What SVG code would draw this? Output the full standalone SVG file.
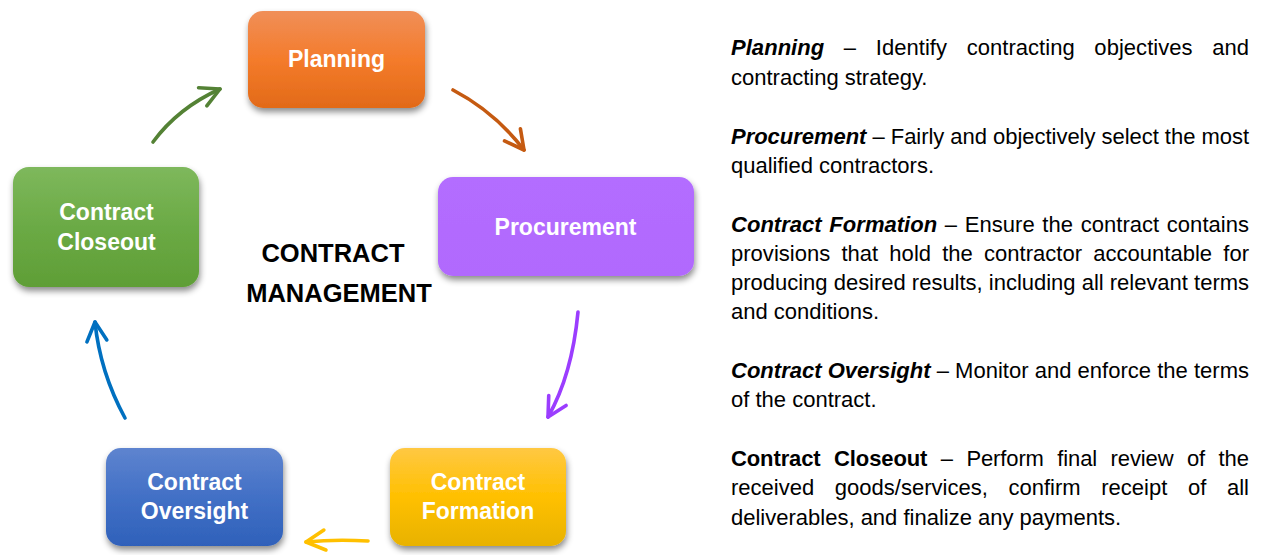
<svg xmlns="http://www.w3.org/2000/svg" width="1261" height="555" viewBox="0 0 1261 555">
<style>
  .lbl { font-family: "Liberation Sans", Arial, sans-serif; font-weight: bold; font-size: 23px; fill: #FFFFFF; text-anchor: middle; }
  .title { font-family: "Liberation Sans", Arial, sans-serif; font-weight: bold; font-size: 25.5px; fill: #000000; text-anchor: middle; }
  .body { font-family: "Liberation Sans", Arial, sans-serif; font-size: 22px; fill: #000000; }
  .bi { font-weight: bold; font-style: italic; }
  .b { font-weight: bold; }
  .arrow { fill: none; stroke-width: 3.6; stroke-linecap: round; }
  .head { fill: none; stroke-width: 3.6; stroke-linecap: round; stroke-linejoin: round; }
</style>
<defs>
  <filter id="shadow" x="-20%" y="-20%" width="140%" height="150%">
    <feDropShadow dx="1" dy="4" stdDeviation="3" flood-color="#000000" flood-opacity="0.45"/>
  </filter>
  <linearGradient id="gOrange" x1="0" y1="0" x2="0" y2="1">
    <stop offset="0" stop-color="#F08F58"/>
    <stop offset="0.5" stop-color="#F47B2B"/>
    <stop offset="1" stop-color="#E26A18"/>
  </linearGradient>
  <linearGradient id="gPurple" x1="0" y1="0" x2="0" y2="1">
    <stop offset="0" stop-color="#B36DFF"/>
    <stop offset="1" stop-color="#B169FD"/>
  </linearGradient>
  <linearGradient id="gGreen" x1="0" y1="0" x2="0" y2="1">
    <stop offset="0" stop-color="#7EB85C"/>
    <stop offset="0.5" stop-color="#6BAA45"/>
    <stop offset="1" stop-color="#5F9E36"/>
  </linearGradient>
  <linearGradient id="gBlue" x1="0" y1="0" x2="0" y2="1">
    <stop offset="0" stop-color="#5E84CF"/>
    <stop offset="0.5" stop-color="#4270C6"/>
    <stop offset="1" stop-color="#2F61BA"/>
  </linearGradient>
  <linearGradient id="gYellow" x1="0" y1="0" x2="0" y2="1">
    <stop offset="0" stop-color="#FFC843"/>
    <stop offset="0.5" stop-color="#FFC000"/>
    <stop offset="1" stop-color="#E8B200"/>
  </linearGradient>
  <marker id="mGreen" markerUnits="userSpaceOnUse" markerWidth="40" markerHeight="40" refX="0" refY="0" orient="auto" overflow="visible">
    <path class="head" d="M-19,-10 L0,0 L-19,10" stroke="#548235"/>
  </marker>
  <marker id="mOrange" markerUnits="userSpaceOnUse" markerWidth="40" markerHeight="40" refX="0" refY="0" orient="auto" overflow="visible">
    <path class="head" d="M-19,-10 L0,0 L-19,10" stroke="#C55A11"/>
  </marker>
  <marker id="mPurple" markerUnits="userSpaceOnUse" markerWidth="40" markerHeight="40" refX="0" refY="0" orient="auto" overflow="visible">
    <path class="head" d="M-19,-10 L0,0 L-19,10" stroke="#9B3DFF"/>
  </marker>
  <marker id="mYellow" markerUnits="userSpaceOnUse" markerWidth="40" markerHeight="40" refX="0" refY="0" orient="auto" overflow="visible">
    <path class="head" d="M-19,-10 L0,0 L-19,10" stroke="#FFC000"/>
  </marker>
  <marker id="mBlue" markerUnits="userSpaceOnUse" markerWidth="40" markerHeight="40" refX="0" refY="0" orient="auto" overflow="visible">
    <path class="head" d="M-19,-10 L0,0 L-19,10" stroke="#0070C0"/>
  </marker>
</defs>

<rect width="1261" height="555" fill="#FFFFFF"/>

<g id="connectors">
  <path class="arrow" d="M153,142 Q178,108 220,89" stroke="#548235" marker-end="url(#mGreen)"/>
  <path class="arrow" d="M453,90 Q495,112 524,150" stroke="#C55A11" marker-end="url(#mOrange)"/>
  <path class="arrow" d="M578,312 Q572,375 548,417" stroke="#9B3DFF" marker-end="url(#mPurple)"/>
  <path class="arrow" d="M368,541 Q335,539 306,542" stroke="#FFC000" marker-end="url(#mYellow)"/>
  <path class="arrow" d="M125,418 Q100,372 95,322" stroke="#0070C0" marker-end="url(#mBlue)"/>
</g>

<g id="node-planning">
  <rect x="248" y="11" width="177" height="97" rx="15" fill="url(#gOrange)" filter="url(#shadow)"/>
  <text class="lbl" x="336.5" y="67">Planning</text>
</g>

<g id="node-procurement">
  <rect x="438" y="177" width="256" height="99" rx="15" fill="url(#gPurple)" filter="url(#shadow)"/>
  <text class="lbl" x="565.5" y="235">Procurement</text>
</g>

<g id="node-formation">
  <rect x="390" y="448" width="176" height="98" rx="15" fill="url(#gYellow)" filter="url(#shadow)"/>
  <text class="lbl" x="478" y="490">Contract</text>
  <text class="lbl" x="478" y="519">Formation</text>
</g>

<g id="node-oversight">
  <rect x="106" y="448" width="177" height="98" rx="15" fill="url(#gBlue)" filter="url(#shadow)"/>
  <text class="lbl" x="194.5" y="490">Contract</text>
  <text class="lbl" x="194.5" y="519">Oversight</text>
</g>

<g id="node-closeout">
  <rect x="13" y="167" width="186" height="120" rx="16" fill="url(#gGreen)" filter="url(#shadow)"/>
  <text class="lbl" x="106.5" y="220">Contract</text>
  <text class="lbl" x="106.5" y="250">Closeout</text>
</g>

<g id="title">
  <text class="title" x="333" y="262">CONTRACT</text>
  <text class="title" x="339" y="302">MANAGEMENT</text>
</g>

<g id="descriptions">
  <text class="body" x="731" y="55" word-spacing="13.5" textLength="518" lengthAdjust="spacing"><tspan class="bi">Planning</tspan> – Identify contracting objectives and</text>
  <text class="body" x="731" y="85">contracting strategy.</text>

  <text class="body" x="731" y="144" textLength="518" lengthAdjust="spacing"><tspan class="bi">Procurement</tspan> – Fairly and objectively select the most</text>
  <text class="body" x="731" y="173">qualified contractors.</text>

  <text class="body" x="731" y="232" word-spacing="1.5" textLength="518" lengthAdjust="spacing"><tspan class="bi">Contract Formation</tspan> – Ensure the contract contains</text>
  <text class="body" x="731" y="261" word-spacing="5" textLength="518" lengthAdjust="spacing">provisions that hold the contractor accountable for</text>
  <text class="body" x="731" y="290" textLength="518" lengthAdjust="spacing">producing desired results, including all relevant terms</text>
  <text class="body" x="731" y="319">and conditions.</text>

  <text class="body" x="731" y="378" textLength="518" lengthAdjust="spacing"><tspan class="bi">Contract Oversight</tspan> – Monitor and enforce the terms</text>
  <text class="body" x="731" y="407">of the contract.</text>

  <text class="body" x="731" y="466" word-spacing="7.5" textLength="518" lengthAdjust="spacing"><tspan class="b">Contract Closeout</tspan> – Perform final review of the</text>
  <text class="body" x="731" y="495" word-spacing="14.5" textLength="518" lengthAdjust="spacing">received goods/services, confirm receipt of all</text>
  <text class="body" x="731" y="525">deliverables, and finalize any payments.</text>
</g>
</svg>
